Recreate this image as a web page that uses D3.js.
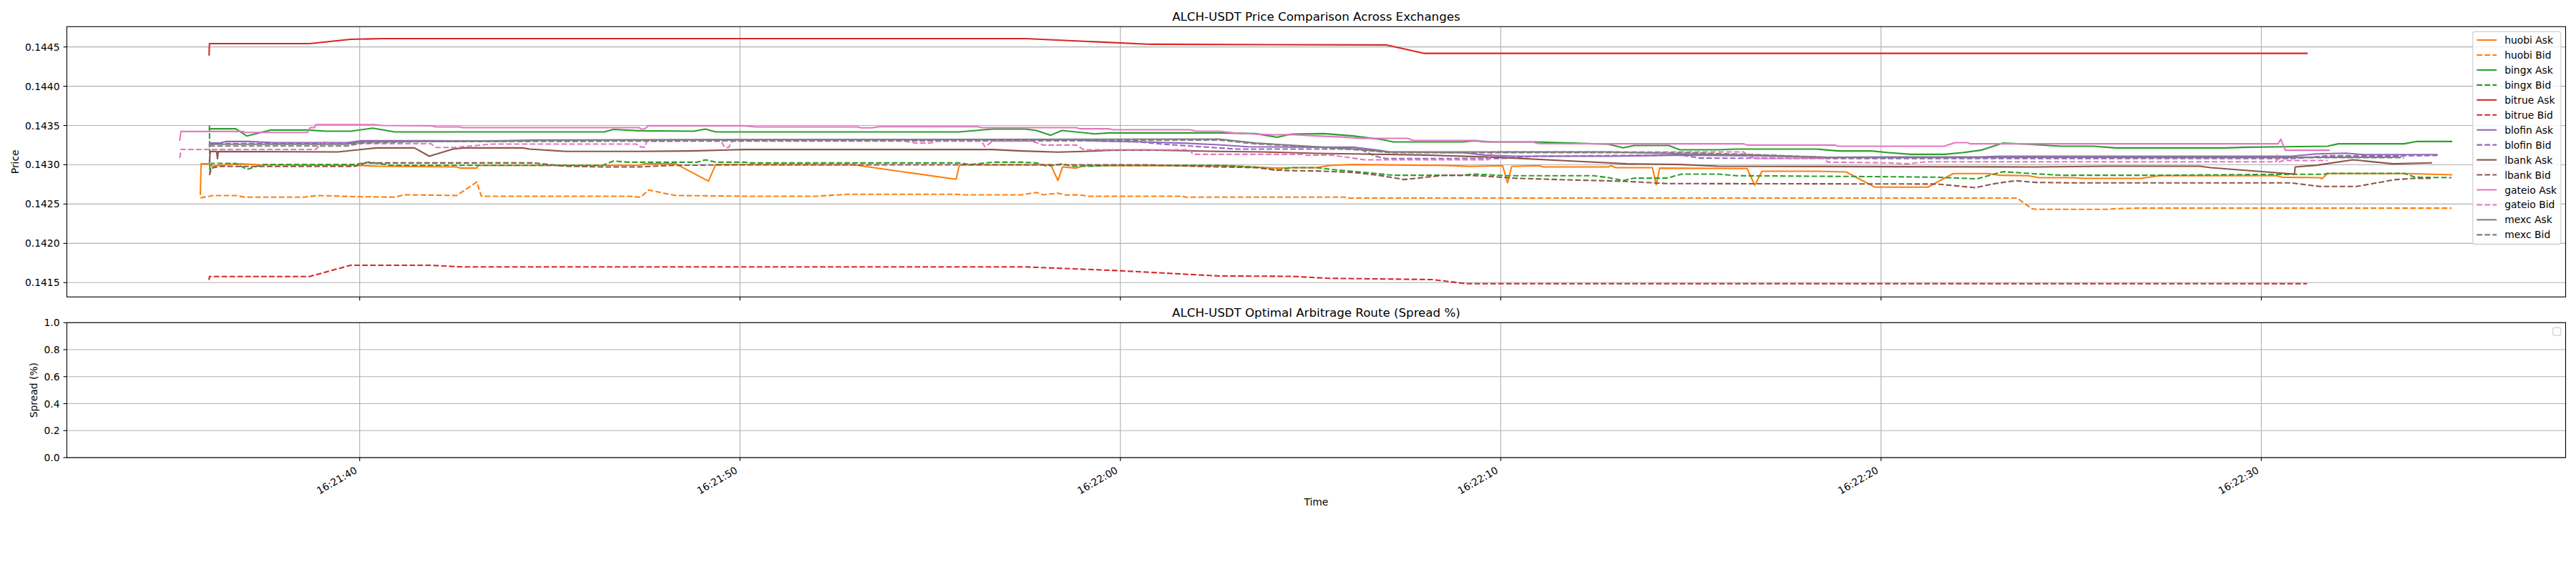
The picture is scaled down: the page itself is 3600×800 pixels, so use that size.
<!DOCTYPE html>
<html><head><meta charset="utf-8">
<script src="https://cdn.jsdelivr.net/npm/d3@7"></script>
<style>body{margin:0;background:#fff} text{font-family:"DejaVu Sans",sans-serif;fill:#000}</style>
</head><body>
<svg id="chart" width="3600" height="800"></svg>
<script>
// time values: seconds relative to 16:21:40
const T0 = "16:21:40";
const exchanges = ["huobi","bingx","bitrue","blofin","lbank","gateio","mexc"];
const exchangeColors = ["#ff7f0e","#2ca02c","#d62728","#9467bd","#8c564b","#e377c2","#7f7f7f"];

const huobiAsk = [[-4.19,0.142624],[-4.17,0.143012],[-3.95,0.143012],[-3.88,0.142982],[-3.69,0.142994],[-3.11,0.143012],[-2.63,0.143000],[-0.14,0.142994],[0.44,0.142982],[2.55,0.142973],[2.64,0.142958],[3.08,0.142958],[3.12,0.142994],[7.35,0.142994],[7.49,0.143012],[8.31,0.143012],[9.17,0.142791],[9.36,0.143003],[12.99,0.143000],[15.68,0.142815],[15.77,0.143000],[18.17,0.143000],[18.36,0.142800],[18.48,0.142973],[18.84,0.142958],[19.04,0.142988],[22.59,0.142988],[23.55,0.142970],[24.12,0.142958],[24.5,0.142964],[25.16,0.142964],[25.54,0.142994],[26.12,0.143003],[28.04,0.142994],[28.42,0.142994],[29.19,0.142979],[30.05,0.142988],[30.18,0.142770],[30.29,0.142979],[31.01,0.142988],[31.11,0.142973],[32.84,0.142973],[32.89,0.142988],[33.03,0.142964],[33.99,0.142964],[34.09,0.142745],[34.18,0.142958],[36.48,0.142952],[36.68,0.142739],[36.87,0.142918],[38.31,0.142918],[39.08,0.142909],[39.84,0.142715],[41.23,0.142715],[41.9,0.142888],[42.81,0.142888],[43.1,0.142867],[43.87,0.142861],[44.15,0.142836],[45.02,0.142836],[45.31,0.142827],[46.84,0.142827],[47.32,0.142861],[50.39,0.142861],[50.54,0.142842],[51.54,0.142836],[51.59,0.142821],[51.74,0.142888],[53.85,0.142888],[55.0,0.142873]];
const huobiBid = [[-4.19,0.142579],[-3.95,0.142600],[-3.88,0.142609],[-3.26,0.142609],[-3.02,0.142588],[-1.48,0.142588],[-1.10,0.142609],[-0.04,0.142594],[0.92,0.142588],[1.16,0.142618],[2.55,0.142609],[3.08,0.142782],[3.20,0.142600],[7.06,0.142600],[7.39,0.142588],[7.59,0.142679],[8.31,0.142609],[10.11,0.142600],[12.03,0.142600],[12.80,0.142624],[15.68,0.142624],[15.87,0.142618],[17.40,0.142618],[17.79,0.142648],[17.98,0.142618],[18.36,0.142639],[18.56,0.142615],[18.94,0.142618],[19.13,0.142600],[21.63,0.142600],[21.72,0.142588],[25.93,0.142588],[26.02,0.142576],[43.58,0.142576],[43.96,0.142442],[44.06,0.142433],[45.98,0.142433],[46.17,0.142442],[46.75,0.142448],[55.0,0.142448]];
const bingxAsk = [[-3.95,0.143458],[-3.26,0.143458],[-2.97,0.143367],[-2.35,0.143442],[-1.34,0.143442],[-0.9,0.143427],[-0.23,0.143427],[0.34,0.143467],[0.92,0.143418],[6.43,0.143418],[6.67,0.143451],[7.35,0.143433],[8.79,0.143427],[9.09,0.143455],[9.36,0.143418],[15.77,0.143418],[16.64,0.143455],[17.5,0.143455],[17.79,0.143436],[18.17,0.143376],[18.46,0.143436],[19.32,0.143394],[19.71,0.143406],[22.59,0.143406],[23.55,0.143397],[24.12,0.143351],[24.5,0.143391],[25.35,0.143397],[26.12,0.143367],[26.89,0.143321],[27.18,0.143291],[29.0,0.143291],[29.29,0.143306],[29.77,0.143291],[30.92,0.143291],[31.88,0.143276],[32.84,0.143261],[33.22,0.143215],[33.51,0.143245],[34.42,0.143245],[34.71,0.143191],[35.72,0.143191],[36.2,0.143200],[38.31,0.143200],[38.88,0.143176],[39.75,0.143176],[40.2,0.143155],[40.8,0.143133],[41.66,0.143133],[42.14,0.143155],[42.62,0.143185],[43.2,0.143276],[43.87,0.143261],[44.73,0.143236],[45.59,0.143236],[46.17,0.143215],[49.05,0.143215],[49.63,0.143224],[50.59,0.143230],[51.74,0.143236],[52.02,0.143267],[53.75,0.143267],[54.09,0.143297],[55.0,0.143297]];
const bingxBid = [[-3.95,0.143503],[-3.94,0.142897],[-3.90,0.143018],[-3.26,0.143018],[-2.97,0.142942],[-2.54,0.143003],[-0.14,0.143003],[0.24,0.143033],[0.82,0.142994],[6.39,0.142994],[6.67,0.143048],[7.06,0.143033],[8.88,0.143033],[9.09,0.143064],[9.36,0.143033],[10.11,0.143033],[10.3,0.143024],[15.77,0.143024],[16.06,0.143003],[16.64,0.143033],[17.4,0.143033],[17.79,0.143024],[18.08,0.142982],[18.46,0.143012],[18.75,0.142982],[19.32,0.142982],[19.71,0.142994],[22.59,0.142994],[23.55,0.142970],[24.12,0.142927],[24.5,0.142964],[25.16,0.142964],[25.54,0.142942],[26.41,0.142903],[27.18,0.142867],[29.0,0.142867],[29.29,0.142882],[30.15,0.142861],[32.45,0.142861],[32.84,0.142836],[33.22,0.142800],[33.51,0.142830],[34.37,0.142830],[34.76,0.142882],[35.72,0.142882],[36.2,0.142861],[40.22,0.142848],[41.47,0.142842],[42.52,0.142821],[43.2,0.142912],[43.87,0.142891],[44.73,0.142867],[47.32,0.142867],[49.82,0.142876],[51.64,0.142880],[51.74,0.142891],[53.75,0.142891],[54.04,0.142842],[55.0,0.142836]];
const bitrueAsk = [[-3.96,0.144400],[-3.95,0.144543],[-1.32,0.144543],[-0.24,0.144597],[0.63,0.144606],[17.5,0.144606],[20.8,0.144534],[27.0,0.144525],[28.0,0.144418],[51.2,0.144418]];
const bitrueBid = [[-3.96,0.141533],[-3.95,0.141578],[-1.32,0.141578],[-0.24,0.141721],[1.87,0.141721],[2.7,0.141700],[17.5,0.141700],[19.9,0.141654],[22.6,0.141585],[24.5,0.141580],[25.5,0.141555],[28.2,0.141539],[29.1,0.141487],[51.2,0.141487]];
const blofinAsk = [[-3.95,0.143230],[-3.94,0.143276],[-3.69,0.143276],[-3.50,0.143297],[-2.92,0.143297],[-2.25,0.143282],[-0.33,0.143282],[0.05,0.143306],[1.78,0.143306],[3.70,0.143300],[4.66,0.143312],[10.11,0.143318],[18.75,0.143321],[19.23,0.143306],[20.67,0.143291],[21.63,0.143276],[22.59,0.143255],[23.35,0.143230],[25.16,0.143224],[26.12,0.143224],[26.79,0.143185],[27.08,0.143164],[29.0,0.143155],[29.57,0.143124],[30.34,0.143109],[32.84,0.143109],[34.76,0.143124],[36.68,0.143115],[38.6,0.143094],[40.2,0.143100],[42.62,0.143100],[43.1,0.143109],[50.78,0.143109],[51.45,0.143139],[52.22,0.143148],[52.7,0.143130],[54.62,0.143130]];
const blofinBid = [[-3.95,0.143260],[-3.69,0.143270],[-0.33,0.143270],[0.05,0.143294],[10.11,0.143306],[19.23,0.143306],[20.47,0.143291],[21.15,0.143261],[22.10,0.143230],[23.07,0.143200],[26.31,0.143200],[26.70,0.143109],[26.98,0.143079],[29.96,0.143079],[30.92,0.143109],[34.76,0.143124],[35.24,0.143085],[40.2,0.143079],[50.78,0.143079],[51.26,0.143094],[51.74,0.143115],[53.66,0.143115],[54.62,0.143118]];
const lbankAsk = [[-3.95,0.143033],[-3.93,0.143169],[-3.76,0.143169],[-3.74,0.143078],[-3.72,0.143169],[-0.57,0.143164],[0.44,0.143215],[1.44,0.143215],[1.83,0.143109],[2.45,0.143200],[2.74,0.143215],[4.28,0.143215],[4.47,0.143200],[5.43,0.143170],[7.35,0.143170],[8.69,0.143176],[10.11,0.143194],[16.64,0.143194],[17.40,0.143176],[18.36,0.143161],[19.04,0.143170],[19.71,0.143185],[20.67,0.143188],[22.59,0.143170],[23.74,0.143164],[25.16,0.143145],[26.12,0.143139],[28.04,0.143124],[29.96,0.143094],[31.88,0.143048],[33.32,0.143012],[34.76,0.143003],[35.72,0.142982],[40.22,0.142976],[44.06,0.142973],[45.98,0.142982],[48.38,0.142982],[48.67,0.142964],[50.87,0.142882],[50.89,0.142973],[51.45,0.142994],[52.41,0.143064],[53.46,0.143012],[54.47,0.143024]];
const lbankBid = [[-3.95,0.142867],[-3.90,0.142958],[-3.69,0.142979],[-0.14,0.142979],[0.15,0.143024],[4.56,0.143024],[5.43,0.142982],[6.39,0.142973],[7.35,0.142973],[8.31,0.142994],[10.11,0.143000],[20.67,0.143000],[21.91,0.142982],[22.59,0.142973],[23.55,0.142964],[24.31,0.142927],[25.16,0.142921],[26.12,0.142903],[26.79,0.142867],[27.46,0.142812],[28.04,0.142842],[28.52,0.142867],[29.19,0.142867],[29.67,0.142852],[30.34,0.142830],[31.88,0.142806],[33.22,0.142791],[33.80,0.142776],[34.37,0.142761],[41.47,0.142755],[42.48,0.142709],[43.0,0.142761],[43.53,0.142797],[44.06,0.142776],[45.0,0.142770],[50.78,0.142770],[51.54,0.142724],[52.5,0.142724],[53.5,0.142810],[54.0,0.142827],[54.45,0.142827]];
const gateioAsk = [[-4.73,0.143315],[-4.70,0.143424],[-3.07,0.143424],[-3.02,0.143412],[-1.37,0.143412],[-1.30,0.143473],[-1.19,0.143473],[-1.15,0.143512],[0.39,0.143512],[0.6,0.143500],[1.87,0.143497],[2.0,0.143482],[2.64,0.143482],[2.7,0.143473],[7.35,0.143473],[7.39,0.143455],[7.49,0.143455],[7.59,0.143497],[10.11,0.143497],[10.4,0.143482],[13.09,0.143482],[13.18,0.143470],[13.47,0.143470],[13.66,0.143485],[16.25,0.143485],[16.35,0.143473],[18.84,0.143473],[18.94,0.143458],[19.71,0.143458],[19.8,0.143445],[21.82,0.143445],[22.01,0.143427],[22.59,0.143427],[22.97,0.143406],[23.55,0.143391],[24.03,0.143382],[24.5,0.143385],[25.16,0.143367],[25.9,0.143351],[26.31,0.143336],[27.56,0.143336],[27.7,0.143309],[29.38,0.143309],[29.5,0.143291],[30.82,0.143291],[31.0,0.143270],[32.84,0.143267],[36.39,0.143267],[36.48,0.143251],[38.79,0.143251],[38.88,0.143236],[41.66,0.143236],[41.95,0.143282],[42.28,0.143282],[42.33,0.143267],[50.44,0.143267],[50.51,0.143327],[50.63,0.143185],[51.78,0.143185]];
const gateioBid = [[-4.73,0.143087],[-4.70,0.143195],[-1.16,0.143195],[-0.9,0.143305],[-0.8,0.143269],[1.87,0.143269],[2.0,0.143221],[2.5,0.143221],[3.5,0.143264],[7.27,0.143264],[7.4,0.143225],[7.5,0.143225],[7.55,0.143300],[9.5,0.143300],[9.6,0.143221],[9.7,0.143221],[9.8,0.143300],[14.33,0.143300],[14.62,0.143276],[15.0,0.143276],[15.2,0.143300],[16.35,0.143300],[16.44,0.143230],[16.64,0.143300],[17.69,0.143300],[17.98,0.143251],[18.84,0.143251],[19.04,0.143191],[21.82,0.143191],[21.91,0.143133],[24.79,0.143133],[24.89,0.143121],[25.54,0.143124],[26.12,0.143085],[26.41,0.143064],[29.67,0.143064],[29.77,0.143164],[36.39,0.143164],[36.48,0.143124],[36.68,0.143079],[38.5,0.143079],[38.6,0.143033],[40.22,0.143024],[40.7,0.143012],[41.18,0.143039],[50.39,0.143039],[50.41,0.143124],[50.44,0.143033],[50.59,0.143055],[51.74,0.143055]];
const mexcAsk = [[-3.95,0.143261],[-0.33,0.143261],[0.05,0.143291],[3.70,0.143306],[4.66,0.143315],[10.11,0.143321],[22.59,0.143327],[23.55,0.143276],[25.16,0.143230],[26.12,0.143200],[27.08,0.143164],[32.84,0.143164],[34.76,0.143139],[36.68,0.143124],[38.6,0.143094],[40.2,0.143094],[53.66,0.143097]];
const mexcBid = [[-3.95,0.143239],[-0.33,0.143239],[0.05,0.143276],[1.78,0.143297],[10.11,0.143306],[22.59,0.143315],[23.55,0.143267],[25.16,0.143224],[26.41,0.143185],[27.08,0.143155],[34.76,0.143155],[36.68,0.143130],[38.6,0.143094],[40.2,0.143094],[53.75,0.143090]];

const askSeries = [huobiAsk, bingxAsk, bitrueAsk, blofinAsk, lbankAsk, gateioAsk, mexcAsk];
const bidSeries = [huobiBid, bingxBid, bitrueBid, blofinBid, lbankBid, gateioBid, mexcBid];

const priceTicks = [0.1415, 0.1420, 0.1425, 0.1430, 0.1435, 0.1440, 0.1445];
const spreadTicks = [0.0, 0.2, 0.4, 0.6, 0.8, 1.0];
const timeTicks = ["16:21:40","16:21:50","16:22:00","16:22:10","16:22:20","16:22:30"];

const priceDomain = [0.141318, 0.144758];
const timeDomainSec = [-7.70, 58.0];

// ---------- drawing ----------
const svg = d3.select("#chart");
const parseT = d3.timeParse("%H:%M:%S");
const base = parseT(T0);
const toDate = s => new Date(base.getTime() + s * 1000);

const L = 93.4, R = 3585.5;
const top1 = 37.3, bot1 = 415.3;
const top2 = 451.3, bot2 = 640.0;
const FS = 13.89;

const x = d3.scaleTime().domain(timeDomainSec.map(toDate)).range([L, R]);
const y1 = d3.scaleLinear().domain(priceDomain).range([bot1, top1]);
const y2 = d3.scaleLinear().domain([0, 1]).range([bot2, top2]);
const tickDates = timeTicks.map(parseT);
const gridColor = "#b0b0b0";

function panel(yScale, yTicks, fmt, yTop, yBot, showXLabels) {
  const g = svg.append("g");
  // grid
  g.selectAll(".gy").data(yTicks).join("line")
    .attr("x1", L).attr("x2", R).attr("y1", d => yScale(d)).attr("y2", d => yScale(d))
    .attr("stroke", gridColor).attr("stroke-width", 1.11);
  g.selectAll(".gx").data(tickDates).join("line")
    .attr("x1", d => x(d)).attr("x2", d => x(d)).attr("y1", yTop).attr("y2", yBot)
    .attr("stroke", gridColor).attr("stroke-width", 1.11);
  return g;
}

function frame(g, yScale, yTicks, fmt, yTop, yBot, showXLabels) {
  g.append("rect").attr("x", L).attr("y", yTop).attr("width", R - L).attr("height", yBot - yTop)
    .attr("fill", "none").attr("stroke", "#000").attr("stroke-width", 1.11);
  // y ticks
  g.selectAll(".yt").data(yTicks).join("line")
    .attr("x1", L - 4.86).attr("x2", L).attr("y1", d => yScale(d)).attr("y2", d => yScale(d))
    .attr("stroke", "#000").attr("stroke-width", 1.11);
  g.selectAll(".yl").data(yTicks).join("text")
    .attr("x", L - 9.9).attr("y", d => yScale(d)).attr("dy", "0.36em")
    .attr("text-anchor", "end").attr("font-size", FS).text(fmt);
  // x ticks
  g.selectAll(".xt").data(tickDates).join("line")
    .attr("x1", d => x(d)).attr("x2", d => x(d)).attr("y1", yBot).attr("y2", yBot + 4.86)
    .attr("stroke", "#000").attr("stroke-width", 1.11);
  if (showXLabels) {
    g.selectAll(".xl").data(tickDates).join("text")
      .attr("text-anchor", "end").attr("font-size", FS)
      .attr("transform", d => `translate(${x(d) - 2.5},${yBot + 20.5}) rotate(-30)`)
      .text(d3.timeFormat("%H:%M:%S"));
  }
}

// ---- top panel ----
const g1 = panel(y1, priceTicks, null, top1, bot1);
const line = d3.line().x(d => x(toDate(d[0]))).y(d => y1(d[1]));
const clip = svg.append("clipPath").attr("id", "clip1").append("rect")
  .attr("x", L).attr("y", top1).attr("width", R - L).attr("height", bot1 - top1);
const lines = svg.append("g").attr("clip-path", "url(#clip1)");
const legendItems = [];
exchanges.forEach((ex, i) => {
  lines.append("path").attr("d", line(askSeries[i])).attr("fill", "none")
    .attr("stroke", exchangeColors[i]).attr("stroke-width", 2.08)
    .attr("stroke-linejoin", "round").attr("stroke-linecap", "square");
  lines.append("path").attr("d", line(bidSeries[i])).attr("fill", "none")
    .attr("stroke", exchangeColors[i]).attr("stroke-width", 2.08)
    .attr("stroke-linejoin", "round").attr("stroke-dasharray", "7.7,3.33");
  legendItems.push({label: ex + " Ask", color: exchangeColors[i], dash: null});
  legendItems.push({label: ex + " Bid", color: exchangeColors[i], dash: "7.7,3.33"});
});
frame(svg.append("g"), y1, priceTicks, d3.format(".4f"), top1, bot1, false);

// legend top
const lg = svg.append("g");
const lgX = 3455.7, lgY = 44.3, lgW = 3578.8 - 3455.7, lgH = 341.7 - 44.3;
lg.append("rect").attr("x", lgX).attr("y", lgY).attr("width", lgW).attr("height", lgH)
  .attr("rx", 2.8).attr("fill", "#fff").attr("fill-opacity", 0.8)
  .attr("stroke", "#cccccc").attr("stroke-opacity", 0.8).attr("stroke-width", 1.39);
legendItems.forEach((it, k) => {
  const cy = 56 + k * 20.95;
  lg.append("line").attr("x1", 3461.3).attr("x2", 3489.1).attr("y1", cy).attr("y2", cy)
    .attr("stroke", it.color).attr("stroke-width", 2.08)
    .attr("stroke-dasharray", it.dash);
  lg.append("text").attr("x", 3500.2).attr("y", cy).attr("dy", "0.36em")
    .attr("font-size", FS).text(it.label);
});

// titles & labels
svg.append("text").attr("x", (L + R) / 2).attr("y", top1 - 8.3).attr("text-anchor", "middle")
  .attr("font-size", 16.67).text("ALCH-USDT Price Comparison Across Exchanges");
svg.append("text").attr("transform", `translate(26,${(top1 + bot1) / 2}) rotate(-90)`)
  .attr("text-anchor", "middle").attr("font-size", FS).text("Price");

// ---- bottom panel ----
const g2 = panel(y2, spreadTicks, null, top2, bot2);
frame(svg.append("g"), y2, spreadTicks, d3.format(".1f"), top2, bot2, true);
svg.append("text").attr("x", (L + R) / 2).attr("y", top2 - 8.3).attr("text-anchor", "middle")
  .attr("font-size", 16.67).text("ALCH-USDT Optimal Arbitrage Route (Spread %)");
svg.append("text").attr("transform", `translate(52,${(top2 + bot2) / 2}) rotate(-90)`)
  .attr("text-anchor", "middle").attr("font-size", FS).text("Spread (%)");
svg.append("text").attr("x", (L + R) / 2).attr("y", 707).attr("text-anchor", "middle")
  .attr("font-size", FS).text("Time");
// empty legend box
svg.append("rect").attr("x", 3578.8 - 11.1).attr("y", top2 + 6.9).attr("width", 11.1).attr("height", 11.1)
  .attr("rx", 2.8).attr("fill", "#fff").attr("fill-opacity", 0.8)
  .attr("stroke", "#cccccc").attr("stroke-opacity", 0.8).attr("stroke-width", 1.39);
</script>
</body></html>
